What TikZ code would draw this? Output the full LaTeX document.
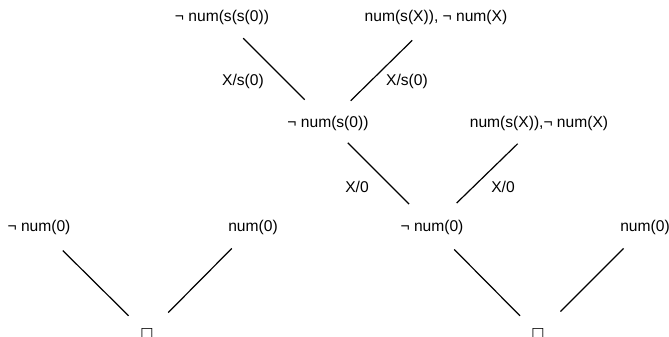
\documentclass[tikz,border=0pt]{standalone}
\usepackage{fontspec}
\setmainfont{Liberation Sans}
\newfontfamily\boxfont{DejaVu Sans}
\usetikzlibrary{calc}
\begin{document}
\begin{tikzpicture}[x=1pt,y=-1pt,
  lit/.style={inner sep=0pt,font=\fontsize{15.6}{18}\selectfont},
  lbl/.style={inner sep=0pt,font=\fontsize{15.6}{18}\selectfont},
  empty/.style={inner sep=0pt,font=\boxfont\fontsize{14}{16}\selectfont},
  edge/.style={line width=1.2pt,black}]
\useasboundingbox (0,0) rectangle (669,337);
% nodes
\node[lit] (a) at (222,17) {¬ num(s(s(0))};
\node[lit] (c) at (436,17) {num(s(X)), ¬ num(X)};
\node[lit] (b) at (328,123) {¬ num(s(0))};
\node[lit] (e) at (539,123) {num(s(X)),¬ num(X)};
\node[lit] (d) at (432,227) {¬ num(0)};
\node[lit] (i) at (645,227) {num(0)};
\node[lit] (f) at (39,227) {¬ num(0)};
\node[lit] (g) at (253,227) {num(0)};
\node[empty] (h) at (147,334) {□};
\node[empty] (j) at (538,334) {□};
% labels
\node[lbl] (l1) at (243,81) {X/s(0)};
\node[lbl] (l2) at (407,81) {X/s(0)};
\node[lbl] (l3) at (357,187) {X/0};
\node[lbl] (l4) at (503,187) {X/0};
% connectors
\draw[edge] ($(a.center)!0.2!(b.center)$) -- ($(a.center)!0.78!(b.center)$);
\draw[edge] ($(c.center)!0.22!(b.center)$) -- ($(c.center)!0.79!(b.center)$);
\draw[edge] ($(b.center)!0.19!(d.center)$) -- ($(b.center)!0.78!(d.center)$);
\draw[edge] ($(e.center)!0.2!(d.center)$) -- ($(e.center)!0.77!(d.center)$);
\draw[edge] ($(f.center)!0.22!(h.center)$) -- ($(f.center)!0.83!(h.center)$);
\draw[edge] ($(g.center)!0.2!(h.center)$) -- ($(g.center)!0.8!(h.center)$);
\draw[edge] ($(d.center)!0.21!(j.center)$) -- ($(d.center)!0.83!(j.center)$);
\draw[edge] ($(i.center)!0.2!(j.center)$) -- ($(i.center)!0.79!(j.center)$);
\end{tikzpicture}
\end{document}
